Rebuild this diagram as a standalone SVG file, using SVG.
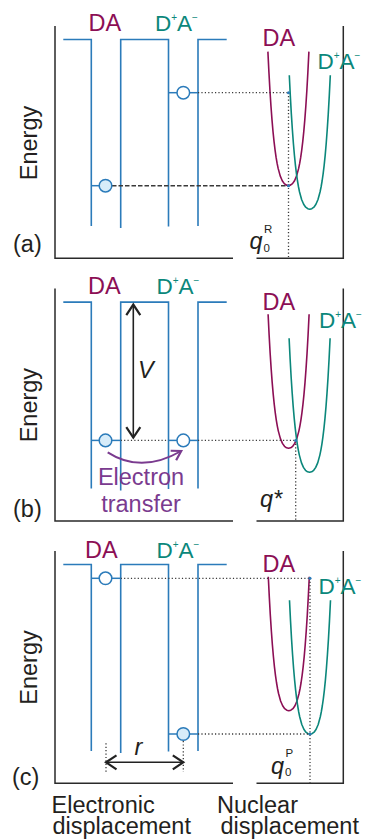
<svg xmlns="http://www.w3.org/2000/svg" width="365" height="839" viewBox="0 0 365 839">
<style>
text{font-family:"Liberation Sans",Arial,sans-serif;font-size:23.5px;fill:#231f20}
.ax{fill:none;stroke:#2a2a2a;stroke-width:1.5}
.well{fill:none;stroke:#2b7bba;stroke-width:1.6}
.lvl{stroke:#2b7bba;stroke-width:1.5}
.occ{fill:#d7ecf9;stroke:#2b7bba;stroke-width:1.5}
.emp{fill:#fff;stroke:#2b7bba;stroke-width:1.5}
.dot{fill:none;stroke:#3a3a3a;stroke-width:1.3;stroke-dasharray:1.2 2.2}
.dash{fill:none;stroke:#3a3a3a;stroke-width:1.5;stroke-dasharray:4.5 2}
.bd{fill:#2b7bba}
text.da{fill:#8c0f55}
text.ct{fill:#0b877b;font-size:22.5px}
.cda{fill:none;stroke:#8c0f55;stroke-width:1.6;stroke-linejoin:round}
.cct{fill:none;stroke:#0b877b;stroke-width:1.6;stroke-linejoin:round}
text.it{font-style:italic}
.sup{font-size:11.5px}
tspan.s{font-size:10px}
.arr{fill:none;stroke:#222;stroke-width:1.6}
.parr{fill:none;stroke:#7a3b8f;stroke-width:2}
text.pt{fill:#7a3b8f}
</style>
<defs>
<path id="U" d="M-20.5,-134 L-19.475,-113.3 L-18.45,-95.1 L-17.425,-79.4 L-16.4,-65.7 L-15.375,-53.9 L-14.35,-43.9 L-13.325,-35.4 L-12.3,-28.2 L-11.275,-22.2 L-10.25,-17.2 L-8.2,-9.7 L-6.15,-4.9 L-4.1,-2 L-2.05,-0.5 L0,0 L2.05,-0.5 L4.1,-2 L6.15,-4.9 L8.2,-9.7 L10.25,-17.2 L11.275,-22.2 L12.3,-28.2 L13.325,-35.4 L14.35,-43.9 L15.375,-53.9 L16.4,-65.7 L17.425,-79.4 L18.45,-95.1 L19.475,-113.3 L20.5,-134"/>
<path id="wells" d="M63.3,39.5 H91.3 V226 M120.7,228 V39.5 H168.5 V226.5 M198,226 V39.5 H226.7"/>
<path id="axes" d="M55,26 V258.3 H233 M256.5,258.3 H343.3 V26"/>
<marker id="hk" markerUnits="userSpaceOnUse" markerWidth="16" markerHeight="20" viewBox="-14 -10 16 20" refX="0" refY="0" orient="auto-start-reverse" overflow="visible">
<path d="M-10.5,-7 L0,0 L-10.5,7" fill="none" stroke="#222" stroke-width="2.2"/>
</marker>
<marker id="hp" markerUnits="userSpaceOnUse" markerWidth="14" markerHeight="16" viewBox="-12 -8 14 16" refX="0" refY="0" orient="auto" overflow="visible">
<path d="M-9,-5.5 L0,0 L-9,5.5" fill="none" stroke="#7a3b8f" stroke-width="2.2"/>
</marker>
</defs>

<!-- Panel (a) -->
<g id="panel-a">
  <g id="a-frame"><use href="#axes" class="ax"/><use href="#wells" class="well"/></g>
  <g id="a-curves"><use href="#U" class="cda" transform="translate(288.4,185.6)"/><use href="#U" class="cct" transform="translate(309.8,209.2)"/></g>
  <g id="a-connectors">
    <path class="dot" d="M198,92.7 H288.5 M288.5,92.7 V258.3"/>
    <path class="dash" d="M112,185.7 H288.5"/>
  </g>
  <g id="a-levels">
    <line class="lvl" x1="168.5" y1="92.7" x2="198" y2="92.7"/>
    <circle class="emp" cx="183.3" cy="92.7" r="6.3"/>
    <line class="lvl" x1="91.3" y1="185.7" x2="100" y2="185.7"/>
    <circle class="occ" cx="105.5" cy="185.7" r="6.3"/>
    <circle class="bd" cx="288.5" cy="92.7" r="1.5"/>
    <circle class="bd" cx="288.5" cy="185.7" r="1.5"/>
  </g>
  <g id="a-labels">
    <text class="da" x="88.5" y="31">DA</text>
    <text class="ct" x="155" y="31">D<tspan class="s" dy="-10">+</tspan><tspan dy="10">A</tspan><tspan class="s" dy="-10">−</tspan></text>
    <text class="da" x="262.5" y="46">DA</text>
    <text class="ct" x="317.5" y="68.5">D<tspan class="s" dy="-10">+</tspan><tspan dy="10">A</tspan><tspan class="s" dy="-10">−</tspan></text>
    <text transform="translate(37,143) rotate(-90)" text-anchor="middle">Energy</text>
    <text x="13" y="252">(a)</text>
    <text class="it" x="249.5" y="249">q</text>
    <text class="sup" x="263.5" y="251.5">0</text>
    <text class="sup" x="264" y="232.5">R</text>
  </g>
</g>

<!-- Panel (b) -->
<g id="panel-b" transform="translate(0,262.6)">
  <g id="b-frame"><use href="#axes" class="ax"/><use href="#wells" class="well"/></g>
  <g id="b-curves"><use href="#U" class="cda" transform="translate(288.6,185.7)"/><use href="#U" class="cct" transform="translate(309.6,209.7)"/></g>
  <g id="b-connectors">
    <path class="dot" d="M120.7,177.8 H168.5 M198,177.8 H295.7 M295.7,177.8 V258.3"/>
    <line class="arr" x1="133.3" y1="42" x2="133.3" y2="175" marker-start="url(#hk)" marker-end="url(#hk)"/>
    <path class="parr" d="M107.7,189.7 Q141.3,211.4 181.2,188.4" marker-end="url(#hp)"/>
  </g>
  <g id="b-levels">
    <line class="lvl" x1="91.3" y1="177.8" x2="120.7" y2="177.8"/>
    <circle class="occ" cx="105.5" cy="177.8" r="6.3"/>
    <line class="lvl" x1="168.5" y1="177.8" x2="198" y2="177.8"/>
    <circle class="emp" cx="183.3" cy="177.8" r="6.3"/>
    <circle class="bd" cx="295.7" cy="177.8" r="1.5"/>
  </g>
  <g id="b-labels">
    <text class="da" x="88" y="31">DA</text>
    <text class="ct" x="156.5" y="31">D<tspan class="s" dy="-10">+</tspan><tspan dy="10">A</tspan><tspan class="s" dy="-10">−</tspan></text>
    <text class="da" x="262.5" y="47.4">DA</text>
    <text class="ct" x="319" y="65.8">D<tspan class="s" dy="-10">+</tspan><tspan dy="10">A</tspan><tspan class="s" dy="-10">−</tspan></text>
    <text class="it" x="138" y="115.5">V</text>
    <text class="pt" x="141" y="222.4" text-anchor="middle">Electron</text>
    <text class="pt" x="141" y="249.7" text-anchor="middle">transfer</text>
    <text transform="translate(37,142.5) rotate(-90)" text-anchor="middle">Energy</text>
    <text x="13" y="254.5">(b)</text>
    <text class="it" x="260" y="244.5">q*</text>
  </g>
</g>

<!-- Panel (c) -->
<g id="panel-c" transform="translate(0,525)">
  <g id="c-frame"><use href="#axes" class="ax"/><use href="#wells" class="well"/></g>
  <g id="c-curves"><use href="#U" class="cda" transform="translate(288.8,185.7)"/><use href="#U" class="cct" transform="translate(310,209.2)"/></g>
  <g id="c-connectors">
    <path class="dot" d="M120.7,53.3 H310 M198,209 H310 M310,53.3 V258.3 M106,218.3 V246.7 M183.3,216 V246.7"/>
    <line class="arr" x1="106" y1="237.3" x2="183.3" y2="237.3" marker-start="url(#hk)" marker-end="url(#hk)"/>
  </g>
  <g id="c-levels">
    <line class="lvl" x1="91.3" y1="53.3" x2="120.7" y2="53.3"/>
    <circle class="emp" cx="105.5" cy="53.3" r="6.3"/>
    <line class="lvl" x1="168.5" y1="209" x2="198" y2="209"/>
    <circle class="occ" cx="183.3" cy="209" r="6.3"/>
    <circle class="bd" cx="310" cy="53.3" r="1.5"/>
    <circle class="bd" cx="310" cy="209" r="1.5"/>
  </g>
  <g id="c-labels">
    <text class="da" x="85" y="33.3">DA</text>
    <text class="ct" x="156.5" y="33.3">D<tspan class="s" dy="-10">+</tspan><tspan dy="10">A</tspan><tspan class="s" dy="-10">−</tspan></text>
    <text class="da" x="262.5" y="46.7">DA</text>
    <text class="ct" x="318.5" y="69">D<tspan class="s" dy="-10">+</tspan><tspan dy="10">A</tspan><tspan class="s" dy="-10">−</tspan></text>
    <text class="it" x="134.5" y="230">r</text>
    <text transform="translate(37,142.5) rotate(-90)" text-anchor="middle">Energy</text>
    <text x="12" y="260">(c)</text>
    <text class="it" x="271" y="248.5">q</text>
    <text class="sup" x="285" y="251">0</text>
    <text class="sup" x="285.5" y="231.7">P</text>
  </g>
</g>

<g id="axis-titles">
  <text x="51.5" y="812.7">Electronic</text>
  <text x="52.5" y="834">displacement</text>
  <text x="217" y="812.7">Nuclear</text>
  <text x="220.5" y="834">displacement</text>
</g>
</svg>
